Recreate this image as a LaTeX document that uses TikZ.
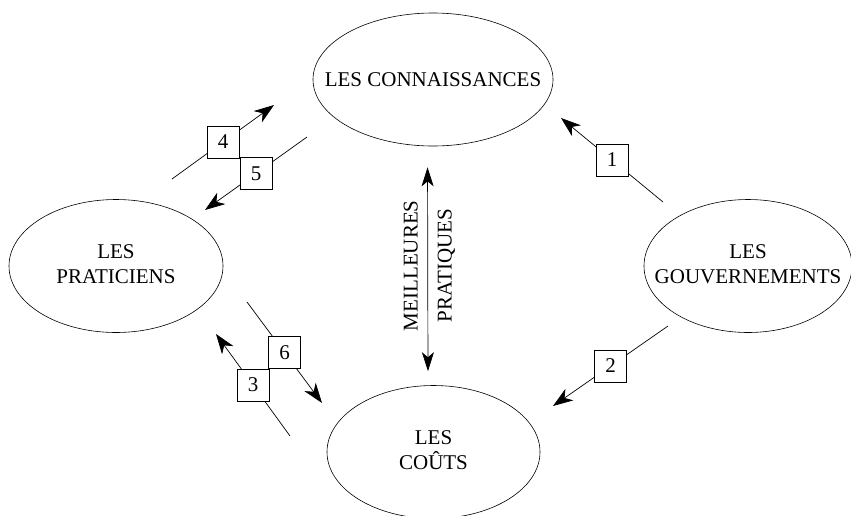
\documentclass[tikz,border=0pt]{standalone}
\usepackage{fontspec}
\setmainfont{Liberation Serif}
\usetikzlibrary{shapes.geometric,arrows.meta}

\newcommand{\deuxlignes}[2]{\makebox[0pt]{\begin{tabular}{@{}c@{}}#1\\#2\end{tabular}}}

\begin{document}
\begin{tikzpicture}[x=1pt, y=-1pt,
		every node/.style={font=\fontsize{21}{25}\selectfont},
		pole/.style={ellipse, draw, line width=0.6pt, inner sep=0pt, minimum height=133pt},
		numbox/.style={draw, fill=white, line width=0.8pt, minimum size=32pt, inner sep=0pt},
		flux/.style={line width=0.7pt, -{Stealth[length=20pt,width=14pt,inset=6pt]}}]
		
		\useasboundingbox (0,0) rectangle (851,515);
		
		% Les quatre poles
		\node[pole, minimum width=240pt] (conn) at (433,79.5) {\makebox[0pt]{LES CONNAISSANCES}};
		\node[pole, minimum width=214pt] (prat) at (116,266) {\deuxlignes{LES}{PRATICIENS}};
		\node[pole, minimum width=208pt] (gouv) at (748,266) {\deuxlignes{LES}{GOUVERNEMENTS}};
		\node[pole, minimum width=213pt] (couts) at (433.5,452) {\deuxlignes{LES}{CO\^UTS}};
		
		% Extremites des fleches numerotees
		\coordinate (d1) at (663,202); \coordinate (f1) at (561,118);
		\coordinate (d2) at (668,326); \coordinate (f2) at (553,406);
		\coordinate (d3) at (290,436); \coordinate (f3) at (216,334);
		\coordinate (d4) at (172,179); \coordinate (f4) at (274,105);
		\coordinate (d5) at (307,137); \coordinate (f5) at (205,210);
		\coordinate (d6) at (247,302); \coordinate (f6) at (322,403);
		
		\foreach \n in {1,...,6}
		\draw[flux] (d\n) -- node[numbox] (b\n) {\n} (f\n);
		
		% Meilleures pratiques
		\draw[line width=0.7pt, {Stealth[length=19pt,width=12pt,inset=5pt]}-{Stealth[length=19pt,width=12pt,inset=5pt]},
		shorten <=21pt, shorten >=14pt] ([xshift=-5.5pt]conn.south) -- ([xshift=-5.5pt]couts.north)
		node[midway, rotate=90, anchor=south, inner sep=0pt, outer sep=10pt] (meil) {MEILLEURES}
		node[midway, rotate=90, anchor=north, inner sep=0pt, outer sep=10pt] (prat2) {PRATIQUES};
		
	\end{tikzpicture}
\end{document}
